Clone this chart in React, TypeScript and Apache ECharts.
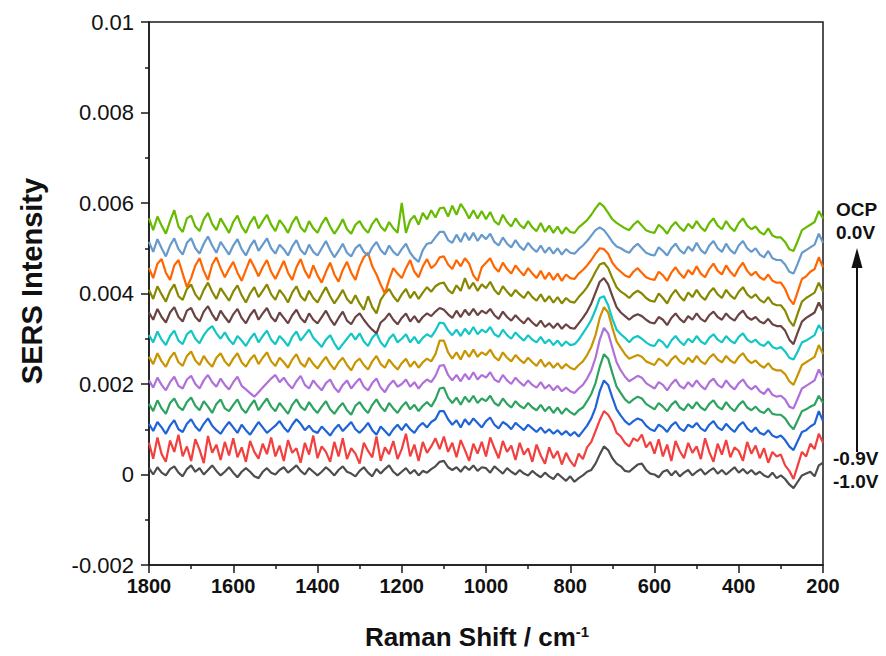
import React, { useEffect, useRef } from 'react';
import * as echarts from 'echarts';

// Values in units of 1e-5 (SERS intensity), sampled every 10 cm-1 from 1800 down to 200.
const UNIT = 1e-5;
const X_START = 1800;
const X_STEP = 10;

const s_m10 = [
  14, 0, 16, 4, -2, 12, 18, 4, -4, 12,
  20, 6, 14, 0, 10, 20, 8, -2, 6, 16,
  4, -6, 6, 14, 6, -4, -8, 6, 14, 4,
  0, 10, 16, 4, 12, 20, 8, 0, 14, 6,
  -2, 6, 16, 8, -2, 10, 18, 6, 2, -4,
  8, 16, 4, -4, 12, 2, 12, 20, 6, -2,
  6, 14, 2, 10, -2, 8, 4, 12, 18, 28,
  30, 16, 10, 16, 6, 18, 10, 20, 8, 16,
  14, 4, 18, 10, 2, 14, 6, 0, 10, 2,
  -2, 8, 0, -6, 4, -4, -10, 2, -6, -14,
  -4, -16, -8, -2, 6, 10, 24, 44, 62, 54,
  36, 24, 18, 8, 6, 14, 22, 24, 10, 2,
  0, -6, 6, 10, -2, 8, -4, 4, 10, -2,
  6, 12, 0, 8, 14, 2, 10, 0, 8, 16,
  4, 12, 2, 10, 0, 6, -2, -6, 4, -8,
  -2, -10, -22, -30, -16, -2, 2, 6, -4, 20,
  26,
];
const s_m09 = [
  70, 35, 82, 45, 28, 75, 50, 88, 40, 62,
  30, 78, 55, 25, 85, 48, 66, 32, 72, 42,
  80, 38, 60, 28, 74, 50, 35, 68, 45, 82,
  40, 64, 30, 76, 48, 58, 26, 70, 44, 86,
  36, 62, 50, 28, 72, 40, 80, 34, 58, 46,
  24, 70, 52, 38, 84, 30, 60, 45, 74, 34,
  56, 90, 40, 66, 30, 72, 48, 62, 80, 56,
  84, 50, 70, 38, 76, 54, 30, 68, 46, 72,
  40, 82, 58, 36, 74, 50, 64, 32, 70, 44,
  58, 28, 66, 42, 24, 60, 36, 52, 22, 48,
  30, 18, 46, 34, 60, 72, 96, 120, 140, 132,
  116, 92, 84, 70, 62, 80, 74, 88, 60, 72,
  46, 78, 40, 66, 30, 74, 52, 36, 70, 48,
  62, 34, 80, 50, 28, 68, 44, 76, 38, 60,
  52, 30, 72, 46, 64, 36, 58, 26, 50, 40,
  44, 20, 8, -10, 20, 50, 40, 68, 56, 90,
  70,
];
const s_m08 = [
  112, 96, 116, 104, 90, 108, 120, 100, 94, 112,
  122, 106, 96, 112, 124, 108, 98, 90, 104, 116,
  104, 92, 110, 98, 88, 102, 116, 104, 92, 100,
  108, 118, 104, 94, 110, 122, 112, 98, 108, 96,
  92, 106, 96, 86, 100, 110, 96, 106, 116, 100,
  92, 102, 114, 98, 88, 106, 96, 86, 100, 110,
  98, 112, 100, 92, 106, 114, 104, 116, 122, 140,
  140, 122, 110, 120, 104, 122, 110, 124, 114, 104,
  118, 126, 110, 102, 116, 110, 100, 114, 106, 98,
  110, 102, 94, 104, 92, 100, 90, 98, 88, 96,
  86, 94, 84, 96, 108, 124, 148, 184, 208, 198,
  170, 144, 130, 118, 110, 118, 124, 120, 108, 100,
  96, 110, 104, 94, 108, 116, 102, 96, 110, 104,
  114, 102, 96, 110, 118, 104, 98, 112, 102, 94,
  108, 116, 102, 94, 104, 92, 88, 98, 86, 82,
  86, 76, 62, 54, 74, 94, 98, 106, 112, 140,
  118,
];
const s_m07 = [
  156, 140, 164, 146, 134, 158, 168, 150, 142, 160,
  170, 152, 142, 162, 150, 136, 156, 166, 146, 140,
  154, 166, 146, 136, 152, 164, 142, 156, 168, 150,
  140, 158, 146, 134, 154, 166, 150, 142, 160, 146,
  136, 150, 162, 144, 134, 148, 158, 142, 132, 152,
  160, 146, 136, 154, 166, 150, 140, 158, 146, 136,
  150, 160, 144, 154, 140, 152, 160, 150, 166, 190,
  192, 170, 158, 170, 154, 172, 160, 174, 158, 168,
  162, 174, 158, 152, 168, 156, 148, 162, 152, 146,
  158, 148, 142, 154, 140, 150, 136, 148, 134, 146,
  138, 132, 142, 148, 162, 178, 202, 238, 266, 256,
  224, 194, 180, 166, 158, 166, 172, 168, 156, 150,
  144, 158, 150, 140, 154, 162, 148, 142, 156, 146,
  160, 148, 142, 156, 164, 150, 144, 160, 148, 140,
  154, 162, 148, 142, 150, 140, 136, 146, 134, 132,
  132, 124, 110, 100, 120, 140, 144, 150, 154, 174,
  158,
];
const s_m06 = [
  208, 192, 214, 198, 186, 204, 216, 196, 190, 210,
  218, 200, 190, 208, 220, 204, 194, 212, 198, 188,
  204, 216, 196, 188, 180, 172, 182, 192, 202, 212,
  220, 204, 214, 200, 190, 206, 218, 198, 190, 208,
  196, 186, 202, 210, 192, 182, 198, 208, 190, 202,
  212, 194, 186, 202, 212, 192, 182, 198, 208, 194,
  200, 210, 194, 204, 190, 202, 210, 204, 218, 240,
  242, 220, 208, 220, 206, 222, 210, 226, 210, 220,
  214, 226, 210, 204, 220, 208, 200, 214, 204, 196,
  208, 198, 192, 204, 190, 198, 186, 196, 184, 192,
  184, 180, 190, 198, 212, 230, 258, 298, 324, 312,
  280, 248, 230, 216, 206, 212, 218, 214, 202, 196,
  190, 204, 198, 186, 200, 210, 196, 190, 204, 194,
  208, 196, 188, 204, 212, 198, 192, 208, 196, 188,
  202, 210, 196, 188, 196, 184, 178, 190, 176, 172,
  174, 166, 150, 146, 168, 190, 196, 202, 208, 232,
  214,
];
const s_m05 = [
  260, 244, 268, 250, 238, 258, 270, 248, 240, 262,
  272, 252, 242, 262, 248, 238, 258, 268, 250, 240,
  256, 268, 248, 238, 254, 264, 244, 258, 270, 250,
  240, 258, 248, 236, 254, 266, 246, 238, 258, 244,
  234, 248, 260, 244, 232, 248, 258, 242, 230, 248,
  256, 242, 232, 250, 262, 244, 236, 254, 242, 232,
  246, 256, 238, 250, 236, 248, 256, 250, 266, 296,
  296, 270, 256, 270, 254, 274, 260, 276, 260, 270,
  264, 276, 260, 252, 270, 258, 250, 264, 254, 246,
  258, 248, 240, 254, 238, 248, 236, 246, 234, 244,
  236, 232, 242, 250, 264, 282, 308, 346, 370, 358,
  324, 294, 280, 266, 256, 260, 264, 260, 250, 246,
  242, 256, 250, 240, 254, 262, 250, 244, 258, 248,
  262, 250, 244, 258, 266, 254, 248, 262, 252, 246,
  260, 268, 254, 246, 252, 242, 236, 246, 234, 230,
  230, 222, 206, 198, 220, 242, 248, 254, 260, 286,
  266,
];
const s_m04 = [
  308, 292, 316, 298, 286, 306, 318, 296, 288, 310,
  318, 300, 290, 308, 320, 328, 312, 300, 314, 298,
  288, 306, 296, 284, 300, 312, 292, 306, 318, 298,
  288, 306, 296, 284, 304, 316, 296, 308, 320, 302,
  292, 282, 298, 308, 290, 276, 288, 300, 312, 298,
  312, 294, 284, 302, 312, 292, 282, 300, 310, 292,
  300, 310, 292, 304, 290, 302, 310, 304, 318, 336,
  334, 318, 308, 320, 306, 322, 310, 326, 310, 320,
  314, 326, 310, 304, 320, 308, 300, 314, 304, 296,
  308, 298, 292, 304, 290, 298, 286, 296, 284, 294,
  286, 288, 298, 312, 326, 342, 364, 390, 394, 374,
  344, 320, 310, 302, 292, 302, 306, 300, 292, 286,
  284, 298, 292, 280, 296, 306, 294, 286, 300, 292,
  306, 294, 288, 302, 310, 298, 292, 306, 296, 290,
  304, 312, 298, 292, 298, 288, 284, 294, 282, 278,
  282, 272, 258, 254, 272, 292, 296, 302, 308, 330,
  316,
];
const s_m03 = [
  358, 342, 366, 348, 336, 358, 370, 348, 338, 362,
  368, 348, 338, 360, 372, 354, 340, 362, 348, 336,
  354, 366, 346, 334, 352, 364, 342, 356, 368, 348,
  338, 358, 346, 334, 352, 364, 346, 336, 356, 342,
  334, 348, 362, 344, 330, 346, 360, 340, 332, 348,
  356, 342, 330, 320, 312, 336, 344, 356, 342, 332,
  346, 356, 338, 350, 336, 348, 356, 350, 360, 368,
  364, 354, 346, 362, 348, 364, 352, 366, 352, 362,
  356, 366, 352, 344, 360, 348, 340, 352, 342, 334,
  346, 336, 328, 340, 326, 334, 324, 334, 322, 332,
  324, 322, 334, 346, 360, 378, 402, 426, 434, 420,
  394, 370, 358, 350, 342, 350, 354, 350, 342, 336,
  334, 348, 342, 330, 346, 356, 344, 336, 350, 342,
  356, 344, 338, 352, 360, 348, 342, 356, 346, 340,
  354, 362, 348, 342, 348, 338, 334, 344, 332, 328,
  328, 318, 298, 288, 314, 338, 346, 352, 358, 380,
  362,
];
const s_m02 = [
  408, 388, 416, 398, 382, 406, 420, 394, 386, 410,
  420, 398, 386, 408, 424, 404, 388, 412, 398, 384,
  404, 418, 396, 380, 400, 414, 392, 406, 420, 398,
  386, 408, 396, 380, 402, 416, 394, 384, 406, 390,
  380, 398, 414, 394, 378, 392, 408, 388, 378, 396,
  378, 364, 394, 370, 356, 386, 400, 410, 394, 382,
  398, 410, 390, 404, 388, 402, 414, 404, 416, 422,
  424, 408, 400, 418, 406, 434, 410, 424, 406, 420,
  412, 426, 408, 398, 416, 404, 394, 408, 398, 390,
  404, 392, 384, 398, 382, 394, 380, 392, 378, 390,
  382, 380, 392, 402, 414, 430, 448, 464, 468, 456,
  434, 414, 404, 398, 390, 400, 406, 400, 390, 384,
  382, 400, 390, 378, 396, 408, 394, 384, 402, 392,
  408, 394, 386, 402, 412, 398, 390, 408, 396, 388,
  404, 414, 398, 390, 398, 386, 380, 392, 378, 374,
  374, 362, 340, 328, 356, 382, 390, 396, 402, 424,
  404,
];
const s_m01 = [
  456, 434, 466, 476, 446, 430, 462, 474, 444, 414,
  434, 462, 478, 450, 430, 464, 480, 456, 436, 454,
  470, 446, 428, 452, 476, 458, 438, 458, 474, 448,
  432, 452, 472, 446, 430, 458, 476, 450, 434, 462,
  440, 424, 448, 468, 442, 426, 452, 470, 446, 430,
  460, 480, 490, 460, 442, 420, 400, 430, 456, 444,
  434, 456, 474, 448, 436, 460, 476, 456, 464, 480,
  482, 464, 454, 474, 460, 478, 466, 440, 428, 458,
  468, 478, 458, 448, 468, 454, 444, 462, 450, 440,
  456, 444, 434, 450, 432, 446, 430, 444, 428, 442,
  434, 432, 444, 452, 462, 474, 488, 500, 498, 488,
  468, 456, 448, 440, 436, 448, 456, 446, 436, 432,
  430, 448, 440, 428, 446, 458, 444, 434, 452, 442,
  460, 444, 436, 454, 466, 450, 442, 462, 448, 438,
  456, 468, 450, 440, 448, 436, 430, 442, 428, 424,
  424, 410, 388, 376, 404, 432, 438, 448, 454, 480,
  458,
];
const s_00 = [
  514, 492, 520, 500, 482, 506, 522, 498, 486, 512,
  522, 500, 488, 510, 526, 506, 490, 514, 500, 486,
  506, 520, 498, 484, 504, 518, 494, 508, 522, 500,
  488, 508, 498, 484, 504, 518, 496, 486, 508, 492,
  484, 500, 516, 496, 480, 494, 510, 490, 482, 500,
  508, 492, 484, 502, 514, 496, 486, 506, 492, 484,
  498, 510, 490, 478, 470, 496, 510, 512, 524, 536,
  536, 518, 512, 530, 514, 534, 518, 534, 516, 530,
  520, 532, 514, 506, 524, 510, 502, 518, 504, 496,
  512, 500, 492, 506, 490, 502, 488, 500, 486, 498,
  490, 488, 498, 506, 516, 528, 540, 546, 540, 528,
  514, 504, 500, 494, 490, 502, 510, 500, 490, 486,
  484, 502, 494, 484, 500, 510, 496, 488, 504, 494,
  512, 496, 488, 506, 516, 500, 492, 510, 496, 488,
  506, 516, 500, 492, 500, 486, 480, 494, 478, 474,
  474, 464, 448, 444, 466, 490, 496, 502, 508, 532,
  512,
];
const s_ocp = [
  566, 540, 570, 550, 532, 560, 584, 548, 536, 566,
  572, 548, 538, 564, 578, 554, 540, 566, 550, 534,
  558, 572, 548, 534, 556, 570, 544, 560, 574, 552,
  538, 562, 550, 534, 556, 570, 546, 536, 560, 544,
  534, 554, 568, 548, 532, 546, 564, 542, 532, 552,
  560, 544, 534, 554, 566, 548, 538, 558, 544, 534,
  600, 534, 562, 572, 552, 578, 564, 584, 568, 588,
  590, 570, 594, 574, 598, 584, 566, 584, 566, 582,
  564, 580, 560, 552, 574, 558, 548, 566, 552, 544,
  560, 546, 538, 556, 536, 550, 534, 548, 532, 546,
  536, 534, 546, 554, 562, 574, 588, 600, 592, 578,
  564, 556, 550, 544, 540, 552, 560, 550, 540, 536,
  534, 552, 544, 532, 548, 558, 546, 538, 554, 544,
  560, 546, 538, 556, 566, 550, 542, 560, 546, 538,
  556, 566, 550, 542, 548, 536, 530, 544, 528, 524,
  524, 514, 498, 494, 516, 540, 546, 552, 558, 582,
  566,
];

const SERIES_NAMES = ['-1.0V', '-0.9V', '-0.8V', '-0.7V', '-0.6V', '-0.5V', '-0.4V', '-0.3V', '-0.2V', '-0.1V', '0.0V', 'OCP'];
const SERIES_VALUES = [s_m10, s_m09, s_m08, s_m07, s_m06, s_m05, s_m04, s_m03, s_m02, s_m01, s_00, s_ocp];
const SERIES_COLORS = ['#4d4d4d', '#f2403f', '#1f63d8', '#2ca35f', '#b070da', '#c89400', '#12c6c6', '#6b4343', '#878700', '#ff6600', '#6699cc', '#66bb00'];

const Y_MIN = -0.002;
const Y_MAX = 0.01;
const Y_INTERVAL = 0.002;
const X_MIN = 200;
const X_MAX = 1800;
const X_INTERVAL = 200;

export default function App() {
  const ref = useRef<HTMLDivElement>(null);
  useEffect(() => {
    if (!ref.current) return;
    const chart = echarts.init(ref.current, undefined, { renderer: 'svg' });
    const series = SERIES_VALUES.map((vals, k) => ({
      name: SERIES_NAMES[k],
      type: 'line',
      showSymbol: false,
      symbol: 'none',
      data: vals.map((v, i) => [X_START - i * X_STEP, v * UNIT]),
      lineStyle: { width: 2.2, color: SERIES_COLORS[k] },
      itemStyle: { color: SERIES_COLORS[k] },
      z: 2 + k,
    }));
    const font = "'Liberation Sans', Arial, sans-serif";
    chart.setOption({
      animation: false,
      backgroundColor: '#ffffff',
      grid: { left: 149, right: 63, top: 22, bottom: 91, show: true, borderColor: '#1a1a1a', borderWidth: 1.5, containLabel: false },
      xAxis: {
        type: 'value',
        inverse: true,
        min: X_MIN,
        max: X_MAX,
        interval: X_INTERVAL,
        axisLine: { show: true, onZero: false, lineStyle: { color: '#1a1a1a', width: 1.5 } },
        axisTick: { show: true, length: 8, lineStyle: { color: '#1a1a1a', width: 1.5 } },
        minorTick: { show: true, splitNumber: 2, length: 4, lineStyle: { color: '#1a1a1a', width: 1.5 } },
        splitLine: { show: false },
        axisLabel: {
          color: '#111', fontSize: 20, fontWeight: 'bold', fontFamily: font, margin: 11,
          formatter: (v: number) => String(v),
        },
      },
      yAxis: {
        type: 'value',
        min: Y_MIN,
        max: Y_MAX,
        interval: Y_INTERVAL,
        axisLine: { show: true, onZero: false, lineStyle: { color: '#1a1a1a', width: 1.5 } },
        axisTick: { show: true, length: 8, lineStyle: { color: '#1a1a1a', width: 1.5 } },
        minorTick: { show: true, splitNumber: 2, length: 4, lineStyle: { color: '#1a1a1a', width: 1.5 } },
        splitLine: { show: false },
        axisLabel: {
          color: '#111', fontSize: 22, fontFamily: font, margin: 15,
          formatter: (v: number) => String(parseFloat(v.toFixed(4))),
        },
      },
      series,
      graphic: [
        {
          type: 'text', x: 32, y: 281, rotation: Math.PI / 2,
          style: { text: 'SERS Intensity', font: `bold 29px ${font}`, fill: '#111', textAlign: 'center', textVerticalAlign: 'middle' },
        },
        {
          type: 'text', x: 477, y: 637,
          style: {
            text: '{a|Raman Shift / cm}{b|-1}',
            textAlign: 'center', textVerticalAlign: 'middle',
            rich: {
              a: { font: `bold 26px ${font}`, fill: '#111' },
              b: { font: `bold 15px ${font}`, fill: '#111', verticalAlign: 'top', padding: [0, 0, 12, 0] },
            },
          },
        },
        { type: 'text', x: 836, y: 209, style: { text: 'OCP', font: `bold 19px ${font}`, fill: '#111', textAlign: 'left', textVerticalAlign: 'middle' } },
        { type: 'text', x: 836, y: 232, style: { text: '0.0V', font: `bold 19px ${font}`, fill: '#111', textAlign: 'left', textVerticalAlign: 'middle' } },
        { type: 'text', x: 833, y: 458, style: { text: '-0.9V', font: `bold 19px ${font}`, fill: '#111', textAlign: 'left', textVerticalAlign: 'middle' } },
        { type: 'text', x: 833, y: 481, style: { text: '-1.0V', font: `bold 19px ${font}`, fill: '#111', textAlign: 'left', textVerticalAlign: 'middle' } },
        { type: 'line', shape: { x1: 857, y1: 452, x2: 857, y2: 264 }, style: { stroke: '#111', lineWidth: 2 } },
        { type: 'polygon', shape: { points: [[851.5, 268], [862.5, 268], [857, 248]] }, style: { fill: '#111' } },
      ],
    });
    return () => chart.dispose();
  }, []);
  return <div ref={ref} style={{ position: 'fixed', left: 0, top: 0, width: 886, height: 656 }} />;
}
